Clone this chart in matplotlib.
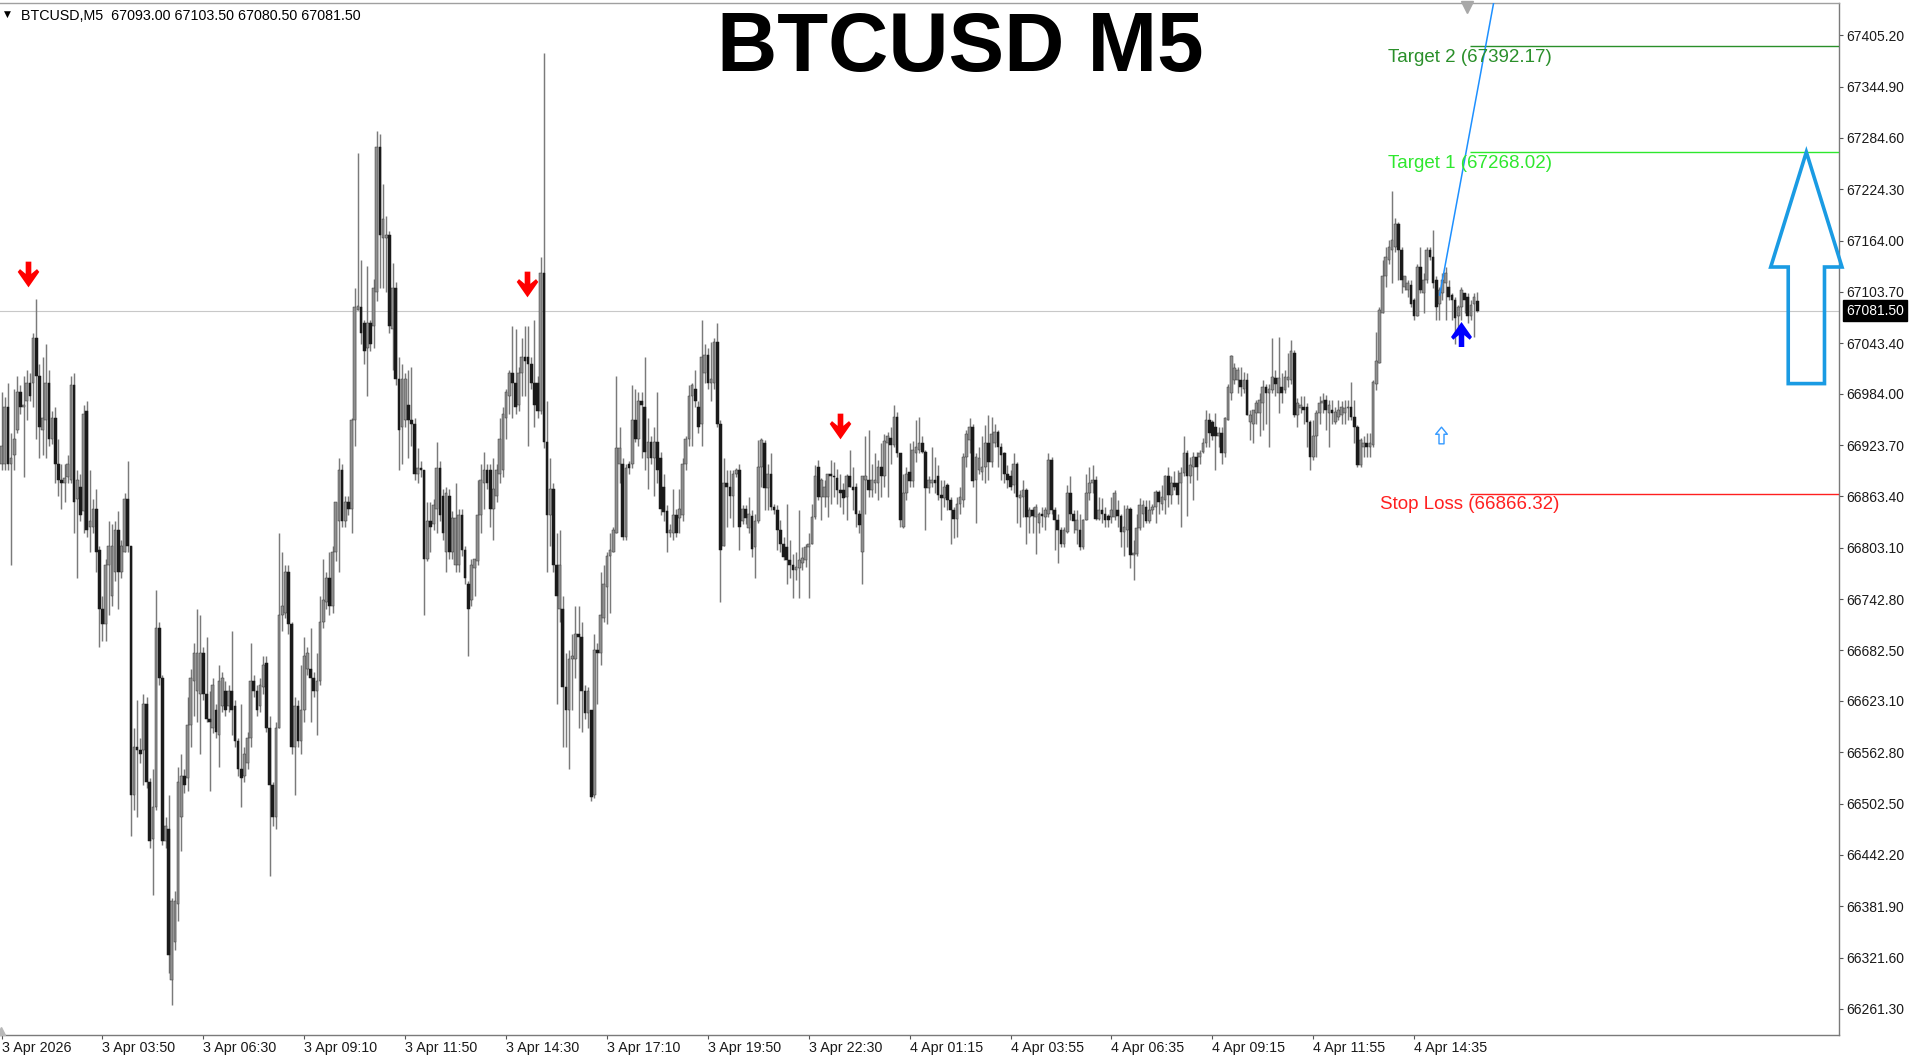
import numpy as np
import matplotlib
matplotlib.use('Agg')
import matplotlib.pyplot as plt
from matplotlib.path import Path
from matplotlib.patches import Polygon
import matplotlib.transforms as mtransforms

plt.rcParams['font.family'] = ['Liberation Sans', 'DejaVu Sans']

# ---------------- data ----------------
header_text = 'BTCUSD,M5  67093.00 67103.50 67080.50 67081.50'
title_text = 'BTCUSD M5'
current_price = 67081.50

open_prices = [
    66901,66901,66968,66901,66912,66942,66986,66968,66975,66997,
    66997,67049,67005,66942,66953,66997,66931,66956,66901,66883,
    66879,66886,66883,66994,66860,66875,66846,66964,66827,66827,
    66849,66801,66731,66713,66783,66746,66775,66824,66775,66798,
    66860,66805,66513,66569,66565,66565,66620,66528,66461,66498,
    66709,66650,66458,66473,66295,66340,66384,66487,66535,66532,
    66595,66646,66635,66631,66679,66631,66602,66591,66613,66583,
    66617,66635,66617,66635,66617,66576,66543,66535,66550,66580,
    66646,66635,66617,66639,66668,66591,66524,66487,66591,66724,
    66727,66775,66713,66569,66617,66576,66613,66661,66661,66650,
    66635,66646,66716,66739,66768,66735,66798,66835,66894,66835,
    66857,66849,66953,67082,67086,67067,67038,67067,67064,67104,
    67274,
    67167,67167,67171,67060,67108,67001,66945,66953,66971,66953,
    66949,66890,66897,66894,66790,66835,66831,66849,66897,66864,
    66798,66864,66798,66783,66783,66842,66801,66761,66742,66779,
    66787,66842,66879,66894,66894,66849,66864,66890,66894,66956,
    66982,67008,66997,66971,67008,67027,67027,67019,66997,66997,
    66964,67126,66927,66842,66872,66783,66731,66731,66639,66613,
    66672,66672,66702,66698,66635,66609,66613,66513,66683,66679,
    66720,66757,66794,66798,66820,66901,66901,66816,66901,66901,
    66953,66931,66975,66968,66908,66927,66908,66927,66908,66875,
    66846,66820,66820,66842,66838,66842,66901,66931,66982,66990,
    66968,66949,67008,67030,66997,66997,67045,66949,66805,66879,
    66875,66864,66890,66894,66835,66849,
    66826,66841,66804,66834,66898,66926,66873,66890,66851,66847,
    66824,66808,66804,66789,66783,66777,66779,66785,66789,66804,
    66808,66839,66898,66863,66863,66863,66890,66888,66885,66871,
    66871,66863,66888,66875,66875,66843,66798,66883,66883,66871,
    66879,66879,66898,66887,66926,66932,66924,66957,66914,66828,
    66867,66892,66881,66914,66918,66926,66916,66873,66879,66883,
    66888,66865,66861,66877,66859,66847,66837,66855,66859,66910,
    66930,66945,66883,66894,66892,66898,66926,66904,66926,66939,
    66922,66914,66890,66887,66877,66902,66861,66863,66871,66839,
    66847,66839,66832,66843,66839,66843,66906,66847,66836,66824,
    66808,66822,66867,66843,66824,66824,66804,66836,66867,66879,
    66883,66837,66847,66843,66841,66839,66839,
    66847,66840,66822,66824,66849,66795,66796,66826,66843,66851,
    66834,66847,66851,66869,66855,66859,66887,66865,66879,66879,
    66879,66891,66914,66887,66898,66910,66910,66916,66926,66953,
    66951,66945,66934,66938,66914,66953,66985,67000,67000,67000,
    66990,67000,66951,66949,66961,66961,66973,66992,66985,66988,
    67002,66985,66992,66988,67000,67000,67032,66959,66967,66969,
    66969,66951,66910,66934,66961,66973,66977,66961,66965,66951,
    66957,66959,66961,66967,66969,66957,66945,66900,66922,66926,
    66922,66924,66996,67020,67079,67122,67141,67153,67157,67184,
    67153,67110,67106,67112,67094,67075,67133,67102,67118,67153,
    67145,67118,67090,67102,67114,67110,67100,67094,67075,67086,
    67102,67098,67075,67090,67093.00,
]

high_prices = [
    66986,66980,66997,66938,66990,67005,66994,67005,67012,67008,
    67056,67095,67019,67027,67042,67012,66964,66968,66931,66901,
    66901,66912,67005,67008,66894,66890,66971,66975,66894,66860,
    66872,66805,66746,66790,66835,66831,66835,66846,66812,66868,
    66905,66805,66591,66624,66580,66631,66628,66532,66543,66753,
    66716,66654,66487,66513,66391,66400,66546,66561,66543,66628,
    66661,66691,66731,66724,66687,66698,66635,66650,66620,66665,
    66657,66646,66642,66705,66624,66580,66620,66569,66587,66691,
    66654,66642,66650,66676,66676,66606,66528,66598,66820,66798,
    66783,66783,66716,66628,66624,66665,66698,66687,66709,66657,
    66679,66746,66790,66775,66798,66805,66857,66908,66901,66864,
    66864,66956,67108,67267,67141,67071,67134,67071,67119,67293,
    67289,
    67230,67193,67175,67138,67115,67027,67019,67008,67012,67016,
    66956,66920,66905,66894,66857,66857,66860,66927,66905,66872,
    66875,66872,66846,66879,66849,66849,66805,66764,66790,66790,
    66883,66901,66916,66901,66901,66908,66901,66956,66968,66990,
    67012,67064,67060,67016,67049,67064,67064,67027,67071,67005,
    67145,67385,66975,66908,66879,66820,66824,66746,66679,66683,
    66702,66735,66735,66716,66642,66639,66613,66702,66691,66775,
    66783,66798,66820,66827,67005,66945,66908,66901,66905,66994,
    66990,66986,66986,67027,66956,66935,66945,66986,66916,66890,
    66853,66831,66872,66849,66872,66908,66934,66994,66997,67012,
    66975,67071,67042,67038,67045,67049,67067,66953,66908,66894,
    66894,66894,66897,66901,66853,66853,
    66863,66847,66843,66930,66932,66930,66902,66914,66855,66853,
    66836,66816,66855,66812,66796,66798,66847,66804,66808,66820,
    66855,66900,66906,66885,66883,66890,66906,66904,66896,66890,
    66879,66890,66918,66898,66879,66847,66887,66934,66941,66902,
    66914,66906,66926,66937,66939,66945,66971,66963,66914,66890,
    66898,66926,66928,66953,66957,66934,66918,66888,66922,66910,
    66900,66883,66883,66879,66863,66851,66863,66875,66914,66941,
    66955,66949,66914,66922,66934,66947,66959,66957,66949,66941,
    66926,66916,66900,66894,66914,66904,66871,66883,66873,66851,
    66851,66855,66845,66851,66851,66914,66910,66851,66843,66828,
    66828,66877,66888,66847,66847,66843,66837,66890,66898,66900,
    66887,66863,66861,66851,66843,66863,66871,
    66859,66843,66853,66853,66851,66812,66843,66861,66859,66859,
    66859,66855,66871,66871,66877,66889,66898,66887,66893,66894,
    66898,66934,66918,66910,66916,66916,66918,66932,66965,66961,
    66953,66961,66945,66945,66957,66996,67030,67020,67016,67016,
    67010,67008,66965,66965,66977,66985,67000,66996,66996,67049,
    67012,67051,67008,67012,67032,67047,67035,66979,66981,66981,
    66973,66953,66953,66965,66981,66985,66983,66977,66977,66969,
    66977,66975,66977,66977,66998,66977,66947,66932,66934,66938,
    66938,67000,67057,67086,67141,67157,67165,67222,67190,67186,
    67157,67122,67118,67118,67096,67137,67157,67126,67157,67157,
    67176,67122,67110,67126,67133,67118,67102,67098,67088,67110,
    67102,67102,67094,67102,67103.50,
]

low_prices = [
    66894,66895,66894,66783,66894,66938,66960,66886,66953,66975,
    66968,66931,66908,66912,66908,66923,66925,66879,66864,66849,
    66857,66879,66879,66820,66768,66835,66820,66816,66798,66820,
    66775,66687,66694,66694,66724,66735,66764,66731,66768,66798,
    66798,66465,66495,66487,66550,66524,66521,66450,66395,66495,
    66642,66454,66450,66303,66266,66330,66365,66447,66515,66517,
    66569,66606,66598,66561,66624,66598,66517,66585,66580,66546,
    66610,66606,66610,66583,66569,66535,66498,66528,66543,66569,
    66628,66606,66610,66631,66587,66417,66476,66473,66591,66705,
    66720,66702,66561,66513,66569,66561,66598,66654,66598,66628,
    66583,66642,66709,66731,66724,66727,66787,66775,66827,66827,
    66842,66820,66923,67082,67042,67019,66982,67034,67038,67093,
    67108,
    67108,67104,67056,67012,66994,66894,66901,66945,66908,66923,
    66883,66879,66886,66724,66787,66798,66824,66820,66835,66812,
    66775,66790,66790,66775,66775,66794,66761,66676,66735,66746,
    66783,66820,66849,66872,66827,66812,66857,66879,66886,66931,
    66960,66956,66960,66964,66982,66982,66923,66990,66945,66956,
    66960,66920,66775,66805,66775,66620,66716,66569,66569,66543,
    66613,66650,66591,66587,66602,66591,66506,66509,66620,66665,
    66716,66713,66727,66798,66820,66879,66812,66812,66890,66897,
    66927,66923,66908,66894,66872,66901,66864,66879,66842,66835,
    66798,66816,66812,66816,66820,66835,66894,66923,66923,66968,
    66938,66923,66997,66990,66975,66990,66945,66739,66805,66827,
    66838,66827,66886,66801,66831,66831,
    66820,66792,66767,66832,66875,66847,66847,66847,66843,66800,
    66798,66789,66761,66767,66744,66765,66744,66777,66781,66744,
    66808,66837,66859,66836,66851,66839,66855,66863,66855,66851,
    66843,66836,66875,66847,66828,66820,66761,66843,66863,66863,
    66867,66859,66863,66875,66863,66902,66922,66910,66828,66826,
    66859,66875,66875,66904,66914,66914,66824,66867,66875,66867,
    66859,66836,66851,66847,66808,66814,66816,66843,66851,66898,
    66914,66875,66832,66890,66883,66879,66883,66898,66922,66898,
    66883,66879,66873,66871,66867,66832,66828,66839,66808,66820,
    66820,66796,66820,66828,66824,66839,66843,66800,66785,66804,
    66804,66820,66836,66820,66808,66800,66802,66836,66859,66867,
    66836,66836,66832,66828,66828,66832,66836,
    66828,66804,66793,66804,66779,66765,66793,66824,66828,66832,
    66832,66843,66832,66843,66847,66843,66851,66855,66871,66855,
    66828,66887,66840,66879,66859,66883,66902,66914,66922,66922,
    66930,66894,66922,66902,66910,66953,66977,66996,66985,66981,
    66985,66959,66930,66926,66949,66934,66941,66949,66922,66985,
    66981,66961,66973,66985,66992,66996,66957,66945,66961,66949,
    66922,66894,66906,66910,66949,66961,66941,66922,66949,66949,
    66953,66949,66949,66953,66953,66926,66898,66898,66910,66910,
    66910,66922,66988,67020,67079,67110,67137,67114,67151,67118,
    67102,67106,67098,67086,67071,67075,67102,67079,67114,67141,
    67108,67071,67071,67094,67071,67094,67071,67043,67055,67071,
    67079,67067,67071,67051,67080.50,
]

close_prices = [
    66923,66968,66901,66908,66931,66986,66968,66971,66997,66982,
    67049,67005,66945,66956,66997,66931,66956,66901,66883,66879,
    66885,66901,66994,66857,66883,66842,66960,66824,66835,66849,
    66798,66731,66713,66783,66805,66805,66824,66775,66805,66860,
    66805,66513,66569,66565,66561,66620,66528,66458,66498,66709,
    66650,66458,66476,66325,66388,66388,66528,66535,66524,66595,
    66650,66679,66679,66679,66631,66602,66598,66642,66587,66646,
    66650,66613,66635,66613,66576,66543,66532,66561,66580,66646,
    66635,66613,66642,66665,66591,66524,66487,66591,66724,66735,
    66775,66713,66569,66617,66576,66613,66676,66679,66650,66635,
    66646,66716,66742,66768,66735,66798,66857,66894,66835,66857,
    66849,66953,67086,67087,67056,67034,67067,67042,67108,67274,
    67171,
    67189,67171,67064,67108,67001,66942,67001,67001,66953,66949,
    66890,66897,66894,66790,66835,66827,66853,66897,66842,66820,
    66868,66798,66838,66838,66842,66801,66768,66731,66783,66790,
    66842,66883,66894,66879,66849,66872,66894,66931,66960,66986,
    67008,66997,66968,67008,67027,67023,67019,66997,66971,66964,
    67126,66927,66842,66872,66783,66746,66783,66639,66613,66672,
    66676,66702,66698,66635,66609,66635,66510,66683,66679,66724,
    66761,66794,66801,66824,66920,66920,66816,66897,66897,66953,
    66931,66975,66971,66916,66927,66908,66927,66894,66849,66845,
    66820,66824,66842,66820,66849,66901,66931,66982,66994,66975,
    66945,67027,67030,66997,67001,67045,66949,66801,66879,66875,
    66864,66890,66894,66827,66849,66838,
    66843,66802,66834,66898,66930,66873,66890,66851,66847,66824,
    66808,66792,66789,66783,66777,66781,66789,66791,66804,66808,
    66839,66887,66863,66883,66875,66890,66888,66886,66871,66867,
    66861,66887,66875,66871,66843,66830,66887,66887,66871,66883,
    66883,66898,66887,66928,66934,66924,66957,66914,66836,66867,
    66890,66881,66918,66922,66926,66916,66873,66883,66883,66879,
    66865,66861,66875,66859,66847,66837,66855,66863,66910,66937,
    66945,66881,66910,66908,66898,66926,66904,66937,66939,66922,
    66912,66890,66883,66875,66902,66863,66865,66871,66839,66847,
    66841,66851,66843,66841,66847,66906,66847,66836,66824,66808,
    66824,66867,66843,66834,66836,66804,66836,66867,66879,66883,
    66837,66847,66843,66836,66836,66847,66867,
    66840,66822,66828,66849,66795,66796,66826,66853,66853,66834,
    66847,66851,66869,66857,66863,66887,66865,66879,66875,66865,
    66891,66914,66887,66900,66910,66898,66914,66926,66953,66938,
    66934,66934,66938,66914,66955,66992,67028,67014,67012,66992,
    67000,66959,66959,66965,66973,66977,66992,66985,66990,67004,
    66996,67002,66985,67004,67004,67034,66959,66973,66971,66965,
    66951,66910,66934,66961,66973,66975,66965,66971,66961,66963,
    66965,66969,66967,66969,66957,66945,66900,66930,66926,66922,
    66926,66998,67022,67082,67122,67145,67157,67165,67184,67153,
    67118,67122,67114,67090,67075,67133,67106,67118,67153,67145,
    67114,67086,67106,67118,67126,67098,67094,67073,67086,67106,
    67094,67075,67088,67098,67081.50,
]

x_tick_bars = [0, 32, 64, 96, 128, 160, 192, 224, 256, 288, 320, 352, 384, 416, 448]
x_tick_labels = ['3 Apr 2026', '3 Apr 03:50', '3 Apr 06:30', '3 Apr 09:10', '3 Apr 11:50',
                 '3 Apr 14:30', '3 Apr 17:10', '3 Apr 19:50', '3 Apr 22:30', '4 Apr 01:15',
                 '4 Apr 03:55', '4 Apr 06:35', '4 Apr 09:15', '4 Apr 11:55', '4 Apr 14:35']
y_tick_labels = ['67405.20', '67344.90', '67284.60', '67224.30', '67164.00', '67103.70',
                 '67043.40', '66984.00', '66923.70', '66863.40', '66803.10', '66742.80',
                 '66682.50', '66623.10', '66562.80', '66502.50', '66442.20', '66381.90',
                 '66321.60', '66261.30']

sell_signal_bars = [8.5, 166.5, 266]
sell_signal_prices = [67125, 67113, 66946]
buy_signal_bar = [463]
buy_signal_price = [67054]
hint_signal_bar = [456.4]
hint_signal_price = [66936]

target_1 = 67268.02
target_2 = 67392.17
stop_loss = 66866.32
level_start_bar = 465.6

trend_start_bar, trend_start_price = 456.1, 67100
trend_end_bar, trend_end_price = 490.0, 67780

arrow_base_price = 66996
arrow_neck_price = 67133

# ---------------- figure ----------------
W, H = 1920, 1062
fig = plt.figure(figsize=(W / 100, H / 100), dpi=100, facecolor='white')
ax = fig.add_axes([0, 27 / H, 1839 / W, 1 - 30 / H])
ax.set_facecolor('white')

o = np.array(open_prices, float)
h = np.array(high_prices, float)
l = np.array(low_prices, float)
c = np.array(close_prices, float)
idx = np.arange(len(o))
hi = np.maximum(h, np.maximum(o, c))
lo = np.minimum(l, np.minimum(o, c))
bull = c >= o

ax.axhline(current_price, color='#c8c8c8', lw=0.8, zorder=1)
ax.vlines(idx, lo, hi, color='#7a7a7a', lw=1.05, zorder=2)
body_h = np.maximum(np.abs(c - o), 1.5)
body_b = np.minimum(o, c)
ax.bar(idx[bull], body_h[bull], bottom=body_b[bull], width=0.85,
       color='#8f8f8f', edgecolor='#3a3a3a', linewidth=0.35, zorder=3)
ax.bar(idx[~bull], body_h[~bull], bottom=body_b[~bull], width=0.85,
       color='#1a1a1a', edgecolor='#1a1a1a', linewidth=0.35, zorder=3)

ax.set_xlim(-0.5, 1839 / 3.153 - 0.5)
ax.set_ylim(66230.6, 67443.2)

# arrow markers
down_arrow = Path([(-0.22, 1), (0.22, 1), (0.22, 0.05), (0.66, 0.42), (0.84, 0.2),
                   (0, -1), (-0.84, 0.2), (-0.66, 0.42), (-0.22, 0.05), (-0.22, 1)], closed=True)
up_arrow = Path([(x, -y) for x, y in down_arrow.vertices], closed=True)
hollow_up = Path([(0, 1), (0.7, 0.15), (0.3, 0.15), (0.3, -1), (-0.3, -1), (-0.3, 0.15),
                  (-0.7, 0.15), (0, 1)], closed=True)

ax.plot(sell_signal_bars, sell_signal_prices, ls='none', marker=down_arrow, ms=18.5,
        color='#ff0000', mew=0, zorder=6)
ax.plot(buy_signal_bar, buy_signal_price, ls='none', marker=up_arrow, ms=18,
        color='#0000ff', mew=0, zorder=6)
ax.plot(hint_signal_bar, hint_signal_price, ls='none', marker=hollow_up, ms=12,
        mfc='white', mec='#3399ff', mew=1.0, zorder=6)

# trend line
ax.plot([trend_start_bar, trend_end_bar], [trend_start_price, trend_end_price],
        color='#1e90ff', lw=1.1, zorder=5)

# level lines and labels
xr = ax.get_xlim()[1]
levels = [(target_2, '#2a8f2a', 'Target 2'), (target_1, '#2ee82e', 'Target 1'),
          (stop_loss, '#ff2020', 'Stop Loss')]
for val, col, name in levels:
    ax.hlines(val, level_start_bar, xr, color=col, lw=1.0, zorder=4)
    ax.annotate(f'{name} ({val:.2f})', xy=(level_start_bar, val), xytext=(0, -11),
                textcoords='offset pixels', ha='center', va='center', color=col,
                fontsize=13.5, zorder=7)

# big hollow arrow to target 1
cx, hs, hh = 572.4, 5.75, 11.3
big_arrow = Polygon([(cx, target_1), (cx + hh, arrow_neck_price), (cx + hs, arrow_neck_price),
                     (cx + hs, arrow_base_price), (cx - hs, arrow_base_price),
                     (cx - hs, arrow_neck_price), (cx - hh, arrow_neck_price)],
                    closed=True, fill=False, ec='#1a9be3', lw=2.6, joinstyle='miter',
                    clip_on=False, zorder=6)
ax.add_patch(big_arrow)

# chart shift marker and scroll marker
blend = mtransforms.blended_transform_factory(ax.transData, ax.transAxes)
ax.plot([464.8], [0.996], transform=blend, marker='v', ms=8, color='#a8a8a8',
        clip_on=False, zorder=8)
ax.plot([-0.3], [0.004], transform=blend, marker='^', ms=6, color='#b8b8b8',
        clip_on=False, zorder=8)

# axes styling
ax.spines['left'].set_visible(False)
ax.spines['right'].set_color('#7a7a7a')
ax.spines['bottom'].set_color('#7a7a7a')
ax.spines['top'].set_color('#a0a0a0')
for s in ['right', 'bottom', 'top']:
    ax.spines[s].set_linewidth(1.0)

ax.yaxis.tick_right()
ax.set_yticks([float(v) for v in y_tick_labels])
ax.set_yticklabels(y_tick_labels)
ax.tick_params(axis='y', length=3, width=0.8, pad=2, labelsize=10, color='#555555',
               labelcolor='#1a1a1a')
ax.set_xticks(x_tick_bars)
ax.set_xticklabels(x_tick_labels)
for lbl in ax.get_xticklabels():
    lbl.set_horizontalalignment('left')
ax.tick_params(axis='x', length=3, width=0.8, pad=1.5, labelsize=10.3, color='#555555',
               labelcolor='#1a1a1a')

# current price box
ax.annotate(f'{current_price:.2f}', xy=(1, current_price), xycoords=('axes fraction', 'data'),
            xytext=(7, 0), textcoords='offset pixels', ha='left', va='center', color='white',
            fontsize=10, bbox=dict(boxstyle='square,pad=0.25', fc='black', ec='black'),
            annotation_clip=False, zorder=9)

# header and title
fig.text(7 / W, 1 - 14 / H, '\u25BC', fontsize=6.5, ha='center', va='center',
         family=['DejaVu Sans'])
fig.text(21 / W, 1 - 19.6 / H, header_text, fontsize=10.3, ha='left', va='baseline',
         color='black')
fig.text(0.5, 1 - 71 / H, title_text, fontsize=60, fontweight='bold', ha='center',
         va='baseline', color='black')

fig.savefig('out.png', dpi=100, facecolor='white')
